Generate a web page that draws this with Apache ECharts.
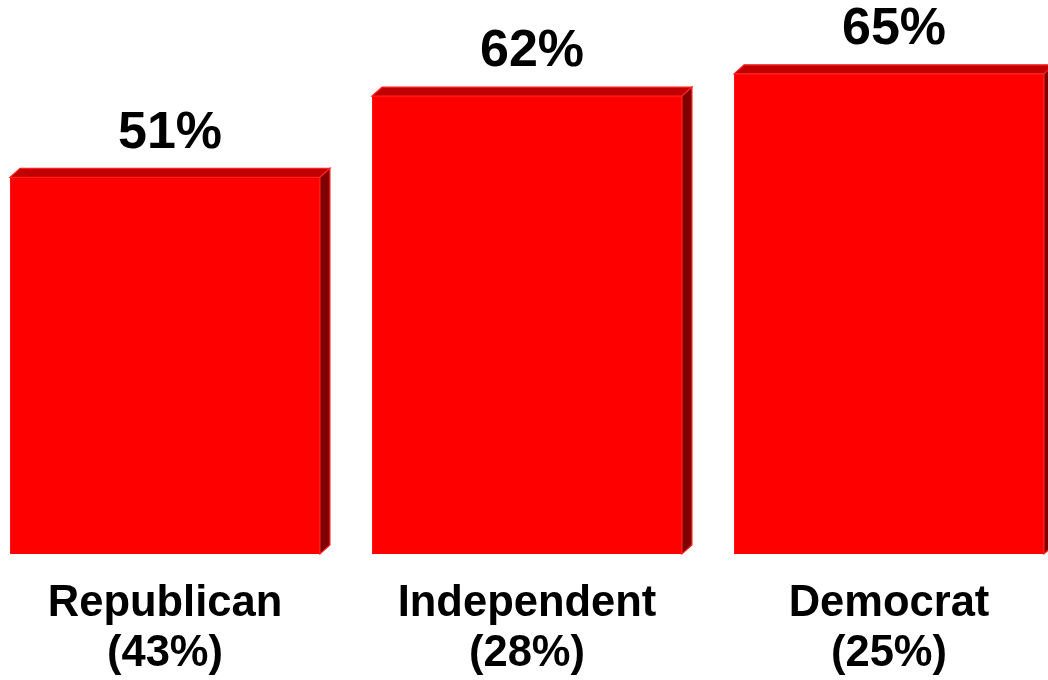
<!DOCTYPE html>
<html>
<head>
<meta charset="utf-8">
<script src="https://cdn.jsdelivr.net/npm/echarts@6/dist/echarts.min.js"></script>
<style>html,body{margin:0;padding:0;background:#fff;}#c{width:1048px;height:680px;}</style>
</head>
<body>
<div id="c"></div>
<script>
const categories = ['Republican', 'Independent', 'Democrat'];
const groupShares = ['43%', '28%', '25%'];
const values = [51, 62, 65];

const chart = echarts.init(document.getElementById('c'), null, {renderer: 'canvas'});
const DX = 10, DY = 9;
const FONT = 'Arial, "Liberation Sans", Helvetica, sans-serif';

function renderItem(params, api) {
  const idx = api.value(0);
  const val = api.value(1);
  const top = api.coord([idx, val]);
  const base = api.coord([idx, 0]);
  const band = api.size([1, 0])[0];
  const w = band * 0.856;
  const x0 = top[0] - w / 2, x1 = top[0] + w / 2;
  const yT = top[1], yB = base[1];
  return {
    type: 'group',
    children: [
      {type: 'rect', shape: {x: x0, y: yT, width: w, height: yB - yT}, style: {fill: '#FF0000'}},
      {type: 'polygon', shape: {points: [[x0, yT], [x0 + DX, yT - DY], [x1 + DX, yT - DY], [x1, yT]]},
        style: {fill: '#C00000', stroke: '#FF2020', lineWidth: 1.2}},
      {type: 'polygon', shape: {points: [[x1, yT], [x1 + DX, yT - DY], [x1 + DX, yB - DY], [x1, yB]]},
        style: {fill: '#800000', stroke: '#FF2020', lineWidth: 1.2}},
      {type: 'text', x: top[0] + DX / 2, y: yT - DY - 9,
        style: {text: val + '%', fill: '#000', font: 'bold 52px ' + FONT, align: 'center', verticalAlign: 'bottom'}}
    ]
  };
}

chart.setOption({
  animation: false,
  backgroundColor: '#ffffff',
  grid: {left: -16, right: -22, top: 0, bottom: 126, containLabel: false, outerBoundsMode: 'none'},
  xAxis: {
    type: 'category',
    data: categories.map((c, i) => c + '\n(' + groupShares[i] + ')'),
    axisLine: {show: false}, axisTick: {show: false},
    axisLabel: {fontSize: 43.5, fontWeight: 'bold', color: '#000', fontFamily: FONT, lineHeight: 50, margin: 25, interval: 0}
  },
  yAxis: {type: 'value', min: 0, max: 75, show: false, splitLine: {show: false}},
  series: [{
    type: 'custom',
    renderItem: renderItem,
    data: values.map((v, i) => [i, v]),
    encode: {x: 0, y: 1},
    clip: false
  }]
});
</script>
</body>
</html>
